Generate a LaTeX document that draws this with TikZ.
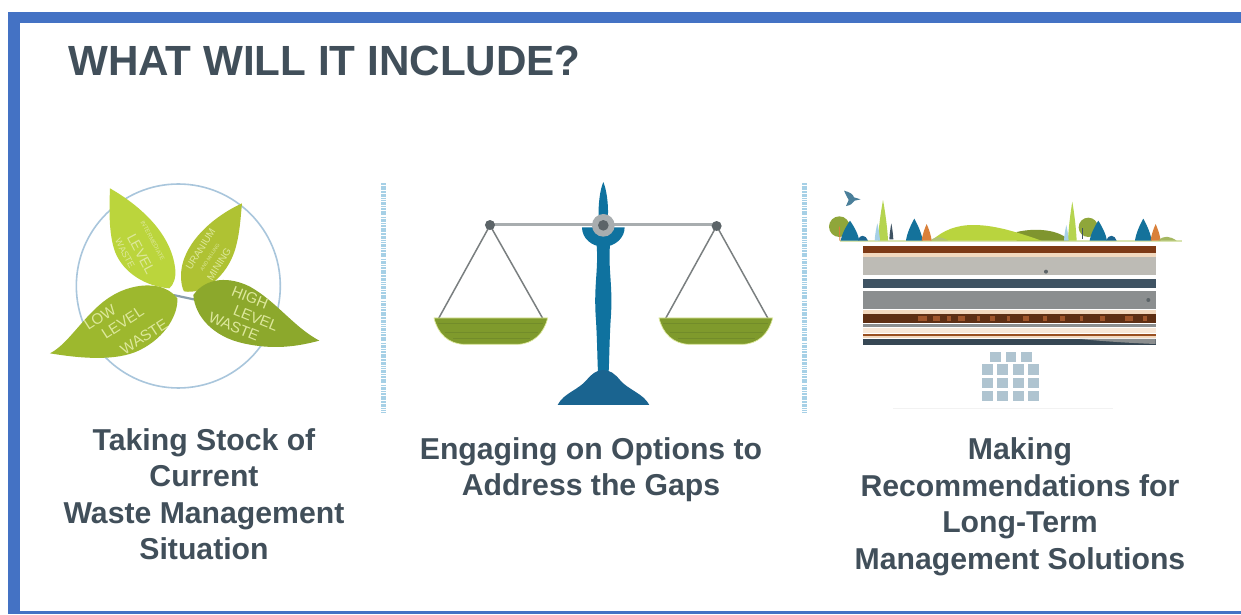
\documentclass[tikz,border=0pt]{standalone}
\usepackage{fontspec}
\setmainfont{Liberation Sans}
\definecolor{barblue}{HTML}{4472C4}
\definecolor{slate}{HTML}{414F5A}
\definecolor{sep}{HTML}{A6D0E6}
\definecolor{ringc}{HTML}{A9C6DC}
\definecolor{leafA}{HTML}{BBD53C}
\definecolor{leafB}{HTML}{AFC233}
\definecolor{leafC}{HTML}{9DB82E}
\definecolor{leafD}{HTML}{8CA82C}
\definecolor{leaftxt}{HTML}{DDE89C}
\definecolor{stand}{HTML}{0F729F}
\definecolor{standd}{HTML}{1A6490}
\definecolor{beam}{HTML}{A8ADAF}
\definecolor{cord}{HTML}{7A7F80}
\definecolor{joint}{HTML}{5C6468}
\definecolor{pan}{HTML}{7F9A2C}
\definecolor{pand}{HTML}{728C2A}
\definecolor{panedge}{HTML}{DDE89C}
\definecolor{rust}{HTML}{7E3A16}
\definecolor{rustd}{HTML}{5E2F14}
\definecolor{rustl}{HTML}{A0562C}
\definecolor{pale}{HTML}{F3D9BF}
\definecolor{stoneA}{HTML}{BDBBB5}
\definecolor{stoneB}{HTML}{8B8E8F}
\definecolor{darkband}{HTML}{3F5363}
\definecolor{cask}{HTML}{AFC4D0}
\definecolor{treeb}{HTML}{14729B}
\definecolor{treeo}{HTML}{D9803A}
\definecolor{treeg}{HTML}{B5D44F}
\definecolor{roundt}{HTML}{8FA63A}
\definecolor{hillA}{HTML}{B9D43E}
\definecolor{hillB}{HTML}{7F952F}
\definecolor{birdc}{HTML}{4A7F9A}
\definecolor{ground}{HTML}{D9E4B0}
\tikzset{
  caption/.style={font=\bfseries\fontsize{30.2}{36.5}\selectfont,text=slate,align=center,inner sep=0pt},
  bigleaf/.style={font=\fontsize{15}{15}\selectfont,text=leaftxt,inner sep=0pt},
  smallleaf/.style={font=\fontsize{6}{6}\selectfont,text=leaftxt,inner sep=0pt},
  sepline/.style={sep,line width=5pt,dash pattern=on 1.6pt off 0.9pt on 3pt off 0.7pt on 1pt off 1.2pt},
  caskbox/.style={fill=cask},
  cordline/.style={cord,line width=1.5pt},
}
\newcommand{\conifer}[5]{\fill[#5] (#1,#3) .. controls ({#1+#2*0.45},{#3+(#4-#3)*0.3}) and ({#1+#2*0.9},{#3+(#4-#3)*0.7}) .. ({#1+#2},#4) -- ({#1-#2},#4) .. controls ({#1-#2*0.9},{#3+(#4-#3)*0.7}) and ({#1-#2*0.45},{#3+(#4-#3)*0.3}) .. cycle;}
\begin{document}
\begin{tikzpicture}[x=1pt,y=-1pt]
\useasboundingbox (0,0) rectangle (1241,614);
\fill[white] (0,0) rectangle (1241,614);
% frame
\fill[barblue] (8,12) rectangle (1241,23);
\fill[barblue] (8,12) rectangle (20,614);
\fill[barblue] (8,611) rectangle (1241,614);
% title
\node[anchor=base west,inner sep=0pt,text=slate,font=\bfseries\fontsize{42.2}{44}\selectfont] (title) at (68,75) {WHAT WILL IT INCLUDE?};
% separators
\draw[sepline] (383,183) -- (383,413);
\draw[sepline] (804,183) -- (804,413);
% ---------- leaves
\begin{scope}[shift={(30,170)},x=0.3333pt,y=-0.3333pt]
\draw[ringc,line width=1.6pt] (445,348) circle [radius=306];
\draw[ringc!60!joint,line width=2.2pt] (430,375) -- (500,390);
\fill[leafA] (240,55) .. controls (310,95) and (425,180) .. (436,300) .. controls (438,325) and (430,345) .. (418,355) .. controls (350,350) and (280,310) .. (255,245) .. controls (235,190) and (238,110) .. cycle;
\fill[leafB] (636,100) .. controls (560,135) and (480,200) .. (458,280) .. controls (450,310) and (452,345) .. (462,364) .. controls (520,375) and (590,320) .. (615,240) .. controls (630,190) and (632,140) .. cycle;
\fill[leafC] (60,550) .. controls (120,520) and (170,420) .. (250,375) .. controls (310,340) and (400,330) .. (442,385) .. controls (445,430) and (410,500) .. (330,540) .. controls (260,575) and (150,565) .. cycle;
\fill[leafD] (868,512) .. controls (790,470) and (740,395) .. (660,350) .. controls (600,320) and (530,320) .. (490,375) .. controls (495,440) and (550,500) .. (640,520) .. controls (730,540) and (800,530) .. cycle;
\node[bigleaf,rotate=33] (low) at (210,442) {LOW};
\node[bigleaf,rotate=33] (lvl) at (278,458) {LEVEL};
\node[bigleaf,rotate=33] (wst) at (342,500) {WASTE};
\node[bigleaf,rotate=-22] (high) at (660,382) {HIGH};
\node[bigleaf,rotate=-22] (lvh) at (678,445) {LEVEL};
\node[bigleaf,rotate=-22] (wsh) at (612,470) {WASTE};
\node[bigleaf,rotate=-62,font=\fontsize{14}{14}\selectfont] (lvm) at (333,252) {LEVEL};
\node[smallleaf,rotate=-62] (intm) at (368,212) {INTERMEDIATE};
\node[smallleaf,rotate=-62,font=\fontsize{9}{9}\selectfont] (wm) at (285,250) {WASTE};
\node[rotate=58,inner sep=0pt,text=leaftxt,font=\fontsize{10}{10}\selectfont] (ura) at (512,238) {URANIUM};
\node[smallleaf,rotate=58,font=\fontsize{5}{5}\selectfont] (uram) at (540,262) {AND MILLING};
\node[rotate=58,inner sep=0pt,text=leaftxt,font=\fontsize{10}{10}\selectfont] (min) at (567,282) {MINING};
\end{scope}
% ---------- scale
\begin{scope}[shift={(370,170)},x=0.3333pt,y=-0.3333pt]
\fill[stand] (700,36) .. controls (690,60) and (685,100) .. (686,135) -- (714,135) .. controls (715,100) and (710,60) .. cycle;
\fill[stand] (680,225) .. controls (686,300) and (670,350) .. (678,450) .. controls (682,520) and (682,570) .. (684,605) -- (716,605) .. controls (718,570) and (718,520) .. (722,450) .. controls (730,350) and (714,300) .. (720,225) -- cycle;
\fill[stand] (636,172) arc[start angle=180,end angle=0,x radius=64,y radius=58] -- cycle;
\fill[standd] (563,705) .. controls (580,670) and (625,660) .. (650,630) .. controls (665,612) and (680,600) .. (700,600) .. controls (720,600) and (735,612) .. (750,630) .. controls (775,660) and (820,670) .. (838,705) -- cycle;
\draw[beam,line width=3.2pt] (360,164) -- (1040,164);
\draw[cordline] (206,445) -- (360,166) -- (518,445);
\draw[cordline] (886,447) -- (1040,168) -- (1195,447);
\fill[joint] (360,165) circle [radius=15];
\fill[joint] (1040,168) circle [radius=15];
\fill[beam] (700,166) circle [radius=34];
\fill[joint] (700,166) circle [radius=16];
\foreach \d in {0,675}{
\begin{scope}[xshift=\d*0.3333pt]
\fill[pan,draw=panedge,line width=.7pt] (192,444) -- (533,444) .. controls (522,490) and (490,523) .. (440,523) -- (285,523) .. controls (235,523) and (203,490) .. cycle;
\draw[pand,line width=1pt] (205,462) -- (520,462);
\draw[pand,line width=1.4pt] (225,488) -- (505,488);
\draw[pand,line width=.8pt] (250,505) -- (480,505);
\end{scope}}
\end{scope}
% ---------- landscape
\begin{scope}[shift={(790,170)},x=0.3333pt,y=-0.3333pt]
% bird
\fill[birdc] (162,62) .. controls (180,66) and (190,74) .. (192,82) -- (212,88) -- (194,92) .. controls (188,100) and (182,106) .. (168,108) -- (176,90) .. controls (172,82) and (166,72) .. cycle;
% ground and hills
\draw[ground,line width=1.2pt] (150,213) -- (1175,213);
\fill[hillB] (680,212) -- (680,186) .. controls (740,172) and (810,180) .. (838,212) -- cycle;
\fill[hillA] (425,212) .. controls (460,180) and (500,165) .. (550,165) .. controls (620,165) and (690,190) .. (755,212) -- cycle;
\fill[roundt!70!white] (420,212) .. controls (440,196) and (455,200) .. (475,212) -- cycle;
% group 1
\fill[roundt] (148,170) circle [radius=31];
\draw[treeo,line width=1pt] (148,170) -- (150,212);
\conifer{180}{28}{152}{212}{treeb}
\fill[standd] (205,212) .. controls (208,190) and (228,195) .. (234,212) -- cycle;
\conifer{279}{15}{90}{212}{treeg}
\conifer{262}{8}{160}{212}{sep}
\conifer{304}{6}{160}{208}{darkband}
\conifer{373}{25}{146}{212}{treeb}
\conifer{410}{15}{162}{212}{treeo}
% group 2
\conifer{847}{13}{95}{212}{treeg}
\conifer{829}{7}{165}{212}{sep}
\fill[roundt] (895,172) circle [radius=29];
\draw[darkband,line width=1pt] (878,175) -- (878,208);
\conifer{925}{26}{152}{212}{treeb}
\fill[standd] (950,212) .. controls (955,190) and (975,195) .. (980,212) -- cycle;
\conifer{1060}{25}{146}{212}{treeb}
\conifer{1097}{15}{162}{212}{treeo}
\fill[roundt!80!white] (1105,212) .. controls (1120,195) and (1140,198) .. (1160,212) -- cycle;
% strata
\fill[rust] (219,228) rectangle (1097,250);
\fill[pale] (219,250) rectangle (1097,260);
\fill[stoneA] (219,262) rectangle (1097,316);
\fill[darkband] (219,326) rectangle (1097,353);
\fill[stoneB] (219,363) rectangle (1097,416);
\fill[pale] (219,420) rectangle (1097,431);
\fill[rustd] (219,431) rectangle (1097,458);
\foreach \xa/\w in {385/25,430/20,470/12,505/20,560/10,600/14,650/10,700/18,760/10,810/14,870/10,930/16,1005/24,1060/12}{\fill[rustl] (\xa,437) rectangle ({\xa+\w},452);}
\fill[stoneB] (219,463) rectangle (1097,472);
\fill[pale!60!white] (219,475) rectangle (1097,489);
\fill[rust!70!treeo] (219,491) rectangle (1097,498);
\fill[pale] (219,498) rectangle (1097,504);
\fill[darkband!85!black] (219,507) rectangle (1097,526);
\fill[stoneB] (870,507) .. controls (950,515) and (1040,520) .. (1097,522) -- (1097,507) -- cycle;
\fill[joint] (768,305) circle [radius=6];
\fill[joint] (1075,390) circle [radius=6];
% casks
\foreach \xa in {600,647,693}{\fill[caskbox] (\xa,545) rectangle ({\xa+32},576);}
\foreach \ya in {583,623,662}{\foreach \xa in {576,622,669,715}{\fill[caskbox] (\xa,\ya) rectangle ({\xa+33},{\ya+31});}}
\draw[black!5,line width=1pt] (310,715) -- (970,715);
\end{scope}
% captions
\node[caption] (c1) at (204,494) {Taking Stock of\\Current\\Waste Management\\Situation};
\node[caption] (c2) at (591,469.5) {Engaging on Options to\\Address the Gaps};
\node[caption] (c3) at (1020,506.5) {Making\\Recommendations for\\Long-Term\\Management Solutions};
\end{tikzpicture}
\end{document}
